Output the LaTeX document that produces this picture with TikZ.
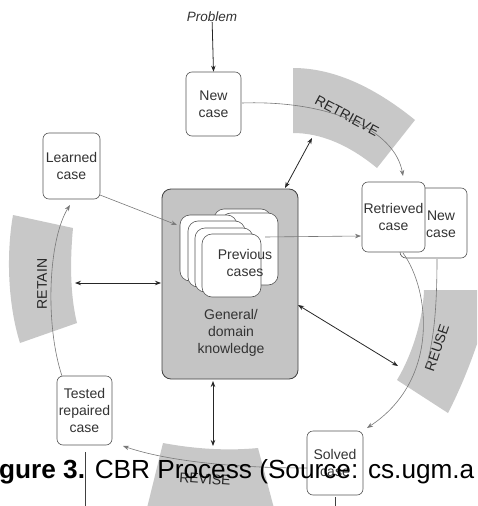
\documentclass[tikz,border=0pt]{standalone}
\usepackage{fontspec}
\setmainfont{Liberation Sans}
\usetikzlibrary{arrows.meta}
\definecolor{bandgray}{RGB}{200,200,200}
\definecolor{kbgray}{RGB}{196,196,196}
\definecolor{boxline}{RGB}{85,85,85}
\definecolor{cycgray}{RGB}{120,120,120}
\begin{document}
\begin{tikzpicture}[x=1pt,y=-1pt,
  bandfill/.style={fill=bandgray, draw=none},
  casebox/.style={draw=boxline, fill=white, rounded corners=6pt, line width=0.6pt, align=center, inner sep=0pt, font=\fontsize{14}{17}\selectfont, text=black!80},
  stackbox/.style={draw=boxline, fill=white, rounded corners=10pt, line width=0.6pt},
  cyc/.style={draw=cycgray, line width=0.6pt, -{Stealth[length=6pt,width=4.5pt]}},
  dbl/.style={draw=black!85, line width=0.8pt, {Stealth[length=6pt,width=4.5pt]}-{Stealth[length=6pt,width=4.5pt]}},
  bandlbl/.style={font=\fontsize{14}{17}\selectfont, text=black!85, inner sep=0pt},
  txt/.style={font=\fontsize{14}{17}\selectfont, text=black!80, align=center, inner sep=0pt}]
\useasboundingbox (0,0) rectangle (477,506);
\clip (0,0) rectangle (477,506);

% ---- bands ----
\fill[bandfill] (293,68) .. controls (331.7,68) and (372.3,85.3) .. (415,120)
  -- (377,168) .. controls (348.7,144.7) and (320.7,133) .. (293,133) -- cycle;
\fill[bandfill] (424,290) .. controls (423,320) and (412,355) .. (397,380)
  -- (448,413) .. controls (465,380) and (480,340) .. (490,300) -- (490,290) -- cycle;
\fill[bandfill] (163,443) .. controls (195,449) and (228,451) .. (258,448)
  -- (275,512) -- (146,512) -- cycle;
\fill[bandfill] (13,215) -- (73,228) .. controls (70,260) and (70,295) .. (77,323)
  -- (20,343) .. controls (8,305) and (6,255) .. (13,215) -- cycle;

% ---- knowledge box ----
\node[draw=black!75, fill=kbgray, rounded corners=9pt, line width=0.8pt, minimum width=136pt, minimum height=190pt, inner sep=0pt] (kb) at (230,284) {};
\node[txt] (kbt) at (231,333) {General/\\domain\\knowledge};

% ---- previous cases stack ----
\draw[stackbox] (214,209) rectangle (271,281);
\draw[stackbox] (221,213) rectangle (278,285);
\draw[stackbox] (180,215) rectangle (237,281);
\draw[stackbox] (188,221) rectangle (245,287);
\draw[stackbox] (195,228) rectangle (253,292);
\draw[stackbox] (202,234) rectangle (261,297);
\node[txt] (prev) at (245,263) {Previous\\cases};

% ---- case boxes ----
\node[txt, font=\fontsize{13.5}{15}\itshape] (prob) at (212,17) {Problem};
\node[casebox, minimum width=55pt, minimum height=64pt] (newc) at (213.5,104) {New\\case};
\node[casebox, minimum width=67pt, minimum height=70pt] (newc2) at (433.5,223) {};
\node[txt] (newc2t) at (441,224) {New\\case};
\node[casebox, minimum width=63pt, minimum height=70pt] (retr) at (393.5,217) {Retrieved\\case};
\node[casebox, minimum width=57pt, minimum height=66pt] (learn) at (71.5,166) {Learned\\case};
\node[casebox, minimum width=55pt, minimum height=69pt] (test) at (84.5,410.5) {Tested\\repaired\\case};
\node[casebox, minimum width=56pt, minimum height=64pt] (solved) at (335,463) {Solved\\case};

% ---- band labels ----
\node[bandlbl, rotate=-28] (lretrieve) at (347,116) {RETRIEVE};
\node[bandlbl, rotate=71] (lreuse) at (437,348) {REUSE};
\node[bandlbl, rotate=-4] (lrevise) at (205,479) {REVISE};
\node[bandlbl, rotate=90] (lretain) at (42,284) {RETAIN};

% ---- coordinates ----
\coordinate (c1a) at (242,103);
\coordinate (c1b) at (403,176);
\coordinate (c2a) at (403,253);
\coordinate (c2b) at (367,428);
\coordinate (c2c) at (437,259);
\coordinate (c2d) at (426,368);
\coordinate (c3a) at (307,468);
\coordinate (c3b) at (123,446);
\coordinate (c4a) at (62,376);
\coordinate (c4b) at (70,205);
\coordinate (c5a) at (100,195);
\coordinate (c5b) at (177,225);
\coordinate (c6a) at (265,237);
\coordinate (c6b) at (361,236);
\coordinate (d1a) at (285,188);
\coordinate (d1b) at (312,138);
\coordinate (d2a) at (75,283);
\coordinate (d2b) at (161,283);
\coordinate (d3a) at (213,381);
\coordinate (d3b) at (213,446);
\coordinate (d4a) at (298,305);
\coordinate (d4b) at (398,366);

% ---- cycle connectors ----
\draw[cyc] (c1a) .. controls (330,100) and (395,130) .. (c1b);
\draw[cyc] (c2a) .. controls (430,290) and (440,380) .. (c2b);
\draw[draw=cycgray, line width=0.6pt] (c2c) .. controls (437,320) and (432,345) .. (c2d);
\draw[cyc] (c3a) .. controls (240,468) and (170,462) .. (c3b);
\draw[cyc] (c4a) .. controls (45,325) and (48,240) .. (c4b);
\draw[cyc] (c5a) -- (c5b);
\draw[cyc] (c6a) -- (c6b);
\draw[draw=black!85, line width=0.8pt, -{Stealth[length=6pt,width=4.5pt]}] (prob) -- (newc.north);

% ---- knowledge links ----
\draw[dbl] (d1a) -- (d1b);
\draw[dbl] (d2a) -- (d2b);
\draw[dbl] (d3a) -- (d3b);
\draw[dbl] (d4a) -- (d4b);

% ---- stray rules ----
\draw[black!75, line width=0.7pt] (85,452) -- (85,506);
\draw[black!75, line width=0.7pt] (335,497) -- (335,506);

% ---- caption ----
\node[anchor=base west, inner sep=0pt, font=\fontsize{26.2}{30}\selectfont] (cap) at (-1,478) {\textbf{gure 3.} CBR Process (Source: cs.ugm.a};
\end{tikzpicture}
\end{document}
